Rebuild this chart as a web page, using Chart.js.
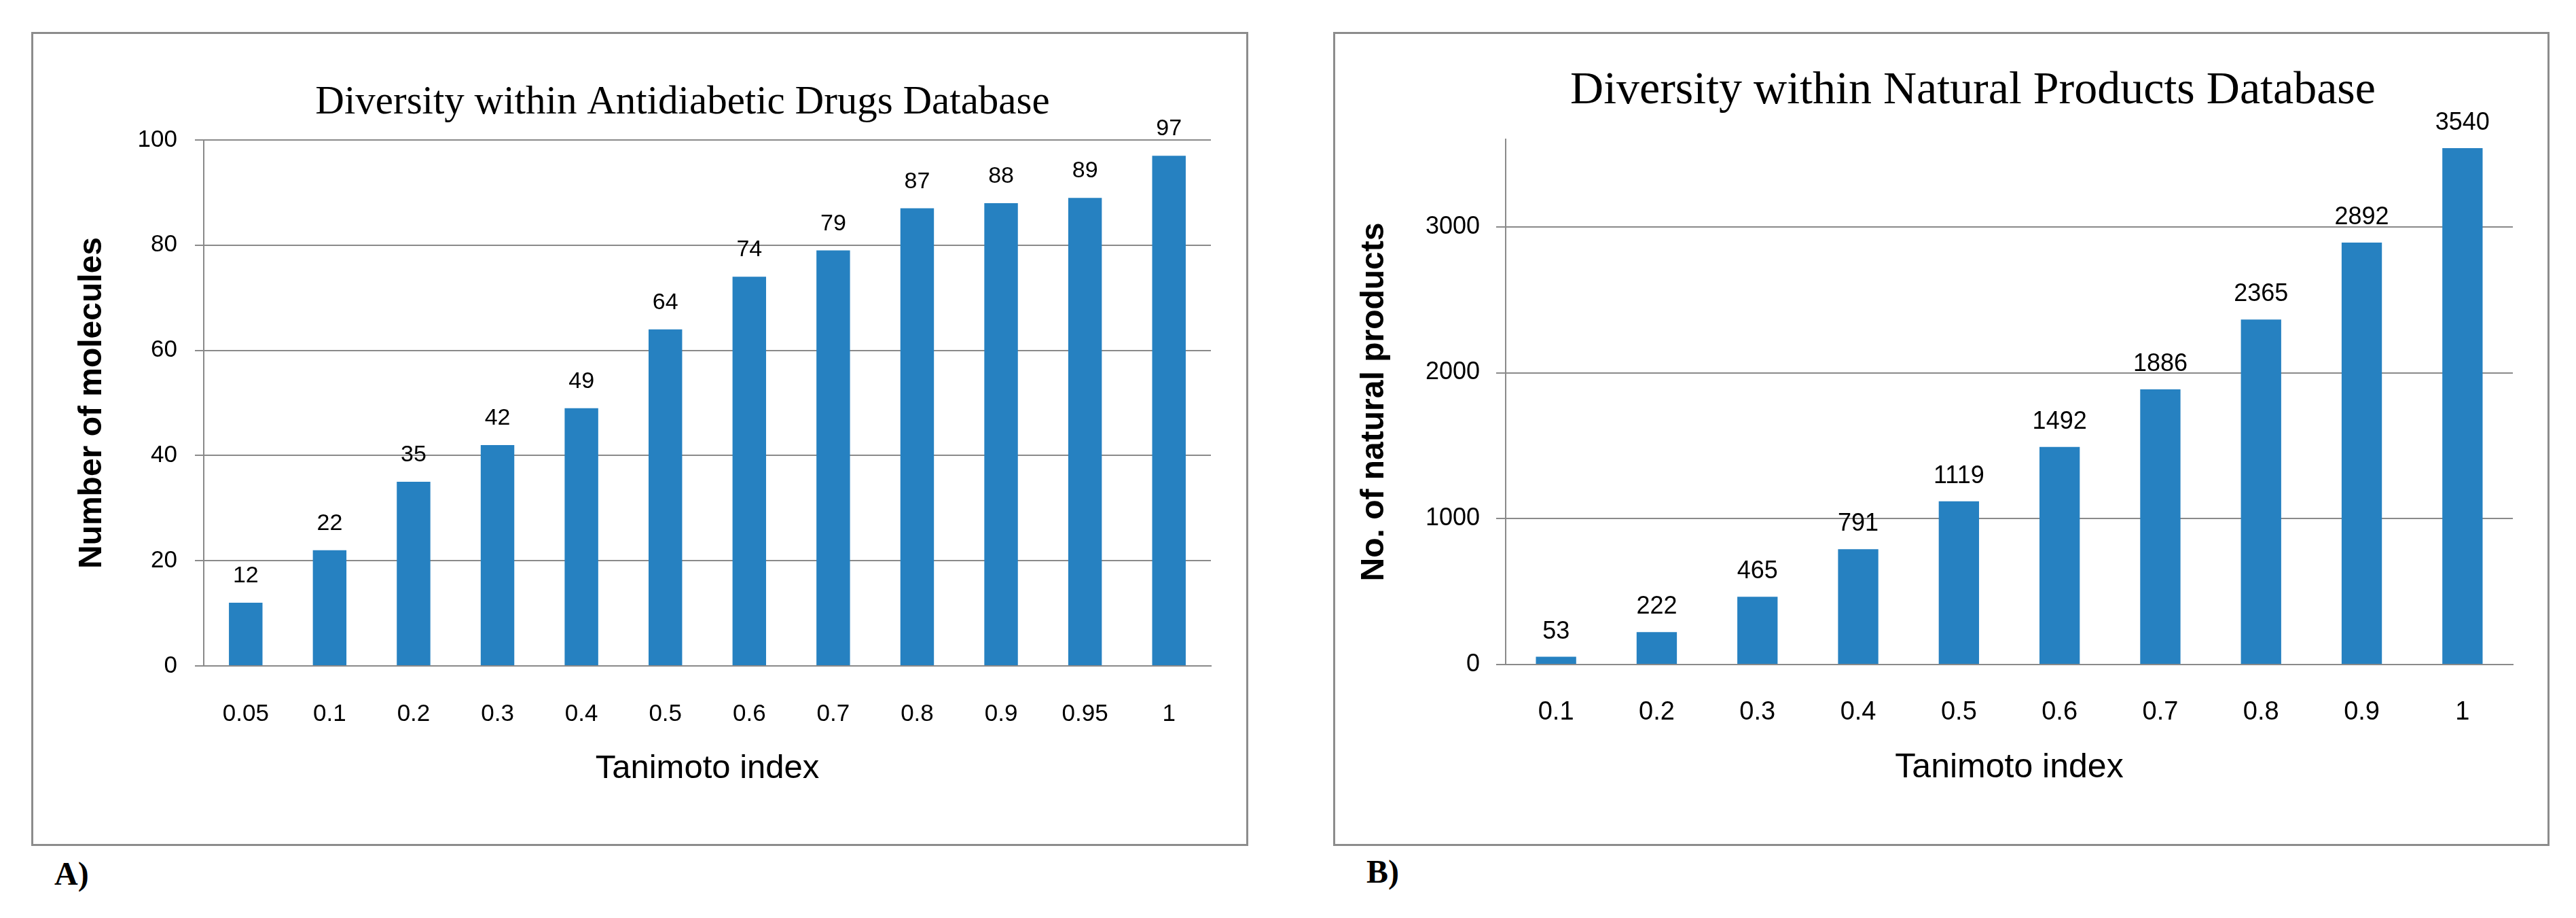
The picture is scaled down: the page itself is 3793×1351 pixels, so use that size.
<!DOCTYPE html>
<html>
<head>
<meta charset="utf-8">
<script src="https://cdn.jsdelivr.net/npm/chart.js@4/dist/chart.umd.min.js"></script>
<style>
  html, body { margin: 0; padding: 0; background: #fff; }
  #page { position: relative; width: 3793px; height: 1351px; background: #fff; overflow: hidden; }
  .frame { position: absolute; border: 3px solid #8c8c8c; box-sizing: border-box; }
  .frame canvas { position: absolute; left: 0; top: 0; }
  .tag { position: absolute; font-family: 'Liberation Serif', 'Times New Roman', serif; font-weight: bold; font-size: 48px; line-height: 1; color: #000; }
</style>
</head>
<body>
<div id="page">
  <div class="frame" style="left:46px; top:47px; width:1792px; height:1198px;">
    <canvas id="chartA" width="1786" height="1192" style="width:1786px;height:1192px;"></canvas>
  </div>
  <div class="frame" style="left:1963px; top:47px; width:1791px; height:1198px;">
    <canvas id="chartB" width="1785" height="1192" style="width:1785px;height:1192px;"></canvas>
  </div>
  <div class="tag" style="left:80px; top:1262px;">A)</div>
  <div class="tag" style="left:2012px; top:1259px;">B)</div>
</div>
<script>
// ---- Data ----
const categoriesA = ['0.05', '0.1', '0.2', '0.3', '0.4', '0.5', '0.6', '0.7', '0.8', '0.9', '0.95', '1'];
const valuesA = [12, 22, 35, 42, 49, 64, 74, 79, 87, 88, 89, 97];
const yTicksA = [0, 20, 40, 60, 80, 100];
const categoriesB = ['0.1', '0.2', '0.3', '0.4', '0.5', '0.6', '0.7', '0.8', '0.9', '1'];
const valuesB = [53, 222, 465, 791, 1119, 1492, 1886, 2365, 2892, 3540];
const yTicksB = [0, 1000, 2000, 3000];
const titleA = 'Diversity within Antidiabetic Drugs Database';
const titleB = 'Diversity within Natural Products Database';
const xTitle = 'Tanimoto index';
const yTitleA = 'Number of molecules';
const yTitleB = 'No. of natural products';

// ---- Styles ----
const BAR = '#2681c1';
const GRID = '#8a8a8a';
const SANS = "'Liberation Sans', Arial, sans-serif";
const SERIF = "'Liberation Serif', 'Times New Roman', serif";

const panelTitle = {
  id: 'panelTitle',
  afterDraw(chart, args, opts) {
    const ctx = chart.ctx;
    ctx.save();
    ctx.font = opts.size + 'px ' + SERIF;
    ctx.fillStyle = '#000';
    ctx.textAlign = 'center';
    ctx.textBaseline = 'alphabetic';
    ctx.fillText(opts.text, opts.x, opts.y);
    ctx.restore();
  }
};

const barLabels = {
  id: 'barLabels',
  afterDatasetsDraw(chart, args, opts) {
    const ctx = chart.ctx;
    ctx.save();
    ctx.font = opts.size + 'px ' + SANS;
    ctx.fillStyle = '#000';
    ctx.textAlign = 'center';
    ctx.textBaseline = 'alphabetic';
    chart.data.datasets.forEach((ds, di) => {
      const meta = chart.getDatasetMeta(di);
      meta.data.forEach((el, i) => {
        ctx.fillText(String(ds.data[i]), el.x, el.y - opts.gap);
      });
    });
    ctx.restore();
  }
};

function makeChart(id, cfg) {
  return new Chart(document.getElementById(id), {
    type: 'bar',
    data: {
      labels: cfg.labels,
      datasets: [{
        data: cfg.values,
        backgroundColor: BAR,
        borderWidth: 0,
        barPercentage: 0.4,
        categoryPercentage: 1.0
      }]
    },
    plugins: [panelTitle, barLabels],
    options: {
      responsive: false,
      animation: false,
      devicePixelRatio: 1,
      layout: { padding: cfg.padding },
      plugins: {
        legend: { display: false },
        tooltip: { enabled: false },
        title: { display: false },
        panelTitle: cfg.title,
        barLabels: cfg.barLabels
      },
      scales: {
        x: {
          type: 'category',
          offset: true,
          grid: { display: false },
          border: { display: true, color: GRID, width: 2 },
          ticks: {
            autoSkip: false, maxRotation: 0, minRotation: 0,
            padding: cfg.xTickPad,
            color: '#000',
            font: { family: SANS, size: cfg.xTickSize }
          },
          title: {
            display: true, text: xTitle, color: '#000',
            padding: { top: 0, bottom: 0 },
            font: { family: SANS, size: cfg.xTitleSize }
          },
          afterFit(scale) { scale.height = cfg.xHeight; }
        },
        y: {
          min: 0,
          max: cfg.yMax,
          afterBuildTicks(scale) { scale.ticks = cfg.yTicks.map(v => ({ value: v })); },
          ticks: {
            padding: cfg.yTickPad,
            color: '#000',
            font: { family: SANS, size: cfg.yTickSize },
            callback: (v) => String(v)
          },
          grid: { color: GRID, lineWidth: 2, tickLength: cfg.tickLen, tickColor: GRID, tickWidth: 2 },
          border: { display: true, color: GRID, width: 2 },
          title: {
            display: true, text: cfg.yTitle, color: '#000',
            padding: { top: 0, bottom: 0 },
            font: { family: SANS, size: 48, weight: 'bold' }
          },
          afterFit(scale) { scale.width = cfg.yWidth; }
        }
      }
    }
  });
}

makeChart('chartA', {
  labels: categoriesA, values: valuesA, yTicks: yTicksA,
  padding: { left: 58, right: 52, top: 156, bottom: 81 },
  title: { text: titleA, x: 956, y: 117, size: 59 },
  barLabels: { size: 34, gap: 30 },
  xTickPad: 42, xTickSize: 35, xTitleSize: 49, xHeight: 181,
  yMax: 100, yTickPad: 26, yTickSize: 35, tickLen: 13,
  yTitle: yTitleA, yWidth: 193
});

makeChart('chartB', {
  labels: categoriesB, values: valuesB, yTicks: yTicksB,
  padding: { left: 29, right: 51, top: 155, bottom: 82 },
  title: { text: titleB, x: 939, y: 102, size: 68 },
  barLabels: { size: 36, gap: 27 },
  xTickPad: 40, xTickSize: 38, xTitleSize: 50, xHeight: 182,
  yMax: 3600, yTickPad: 24, yTickSize: 36, tickLen: 14,
  yTitle: yTitleB, yWidth: 222
});
</script>
</body>
</html>
